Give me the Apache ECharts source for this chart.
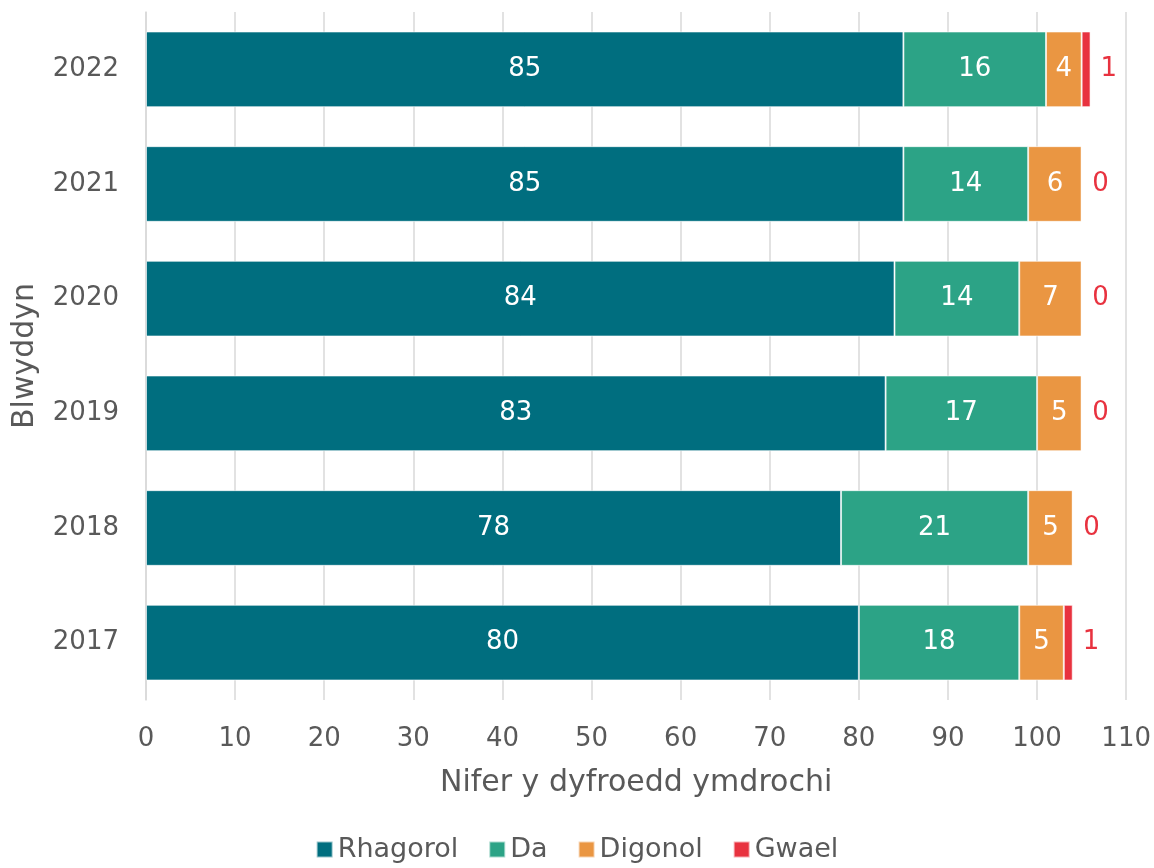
<!DOCTYPE html>
<html>
<head>
<meta charset="utf-8">
<script src="https://cdn.jsdelivr.net/npm/echarts@6/dist/echarts.min.js"></script>
<style>
  html, body { margin: 0; padding: 0; background: #fff; }
  #chart { width: 1154px; height: 868px; }
</style>
</head>
<body>
<div id="chart"></div>
<script>
// data
var years = ['2017', '2018', '2019', '2020', '2021', '2022']
var rhagorol = [80, 78, 83, 84, 85, 85]
var da = [18, 21, 17, 14, 14, 16]
var digonol = [5, 5, 5, 7, 6, 4]
var gwael = [1, 0, 0, 0, 0, 1]
var xTicks = [0, 110, 10] // min, max, interval

var font = 'DejaVu Sans'
var grey = '#595959'

function barSeries(name, data, color, inside) {
  return {
    name: name,
    type: 'bar',
    stack: 'total',
    barCategoryGap: '34%',
    data: data,
    itemStyle: { color: color, borderColor: 'rgba(255,255,255,0.6)', borderWidth: 1 },
    label: inside ? {
      show: true,
      position: 'inside',
      color: '#fff',
      fontFamily: font,
      fontSize: 26
    } : {
      show: true,
      position: 'right',
      distance: 10,
      color: color,
      fontFamily: font,
      fontSize: 26
    }
  }
}

var chart = echarts.init(document.getElementById('chart'))
var option = {
  backgroundColor: '#fff',
  animation: false,
  grid: { left: 146, right: 26, top: 12, bottom: 168 },
  legend: {
    bottom: 0,
    itemWidth: 16,
    itemHeight: 16,
    itemGap: 30,
    icon: 'rect',
    textStyle: { color: grey, fontFamily: font, fontSize: 27 },
    data: ['Rhagorol', 'Da', 'Digonol', 'Gwael']
  },
  xAxis: {
    type: 'value',
    min: xTicks[0],
    max: xTicks[1],
    interval: xTicks[2],
    name: 'Nifer y dyfroedd ymdrochi',
    nameLocation: 'middle',
    nameGap: 68,
    nameTextStyle: { color: grey, fontFamily: font, fontSize: 30 },
    axisLine: { show: false },
    axisTick: { show: false },
    axisLabel: { color: grey, fontFamily: font, fontSize: 26, margin: 26 },
    splitLine: { lineStyle: { color: '#d9d9d9', width: 1.5 } }
  },
  yAxis: {
    type: 'category',
    data: years,
    name: 'Blwyddyn',
    nameLocation: 'middle',
    nameRotate: 90,
    nameGap: 106,
    nameTextStyle: { color: grey, fontFamily: font, fontSize: 30 },
    axisLine: { lineStyle: { color: '#d9d9d9', width: 1.5 } },
    axisTick: { length: 10, lineStyle: { color: '#d9d9d9', width: 1.5 } },
    axisLabel: { color: grey, fontFamily: font, fontSize: 26, margin: 27 }
  },
  series: [
    barSeries('Rhagorol', rhagorol, '#006e7f', true),
    barSeries('Da', da, '#2ca386', true),
    barSeries('Digonol', digonol, '#ea9642', true),
    barSeries('Gwael', gwael, '#e8323f', false)
  ]
}
chart.setOption(option)
</script>
</body>
</html>
